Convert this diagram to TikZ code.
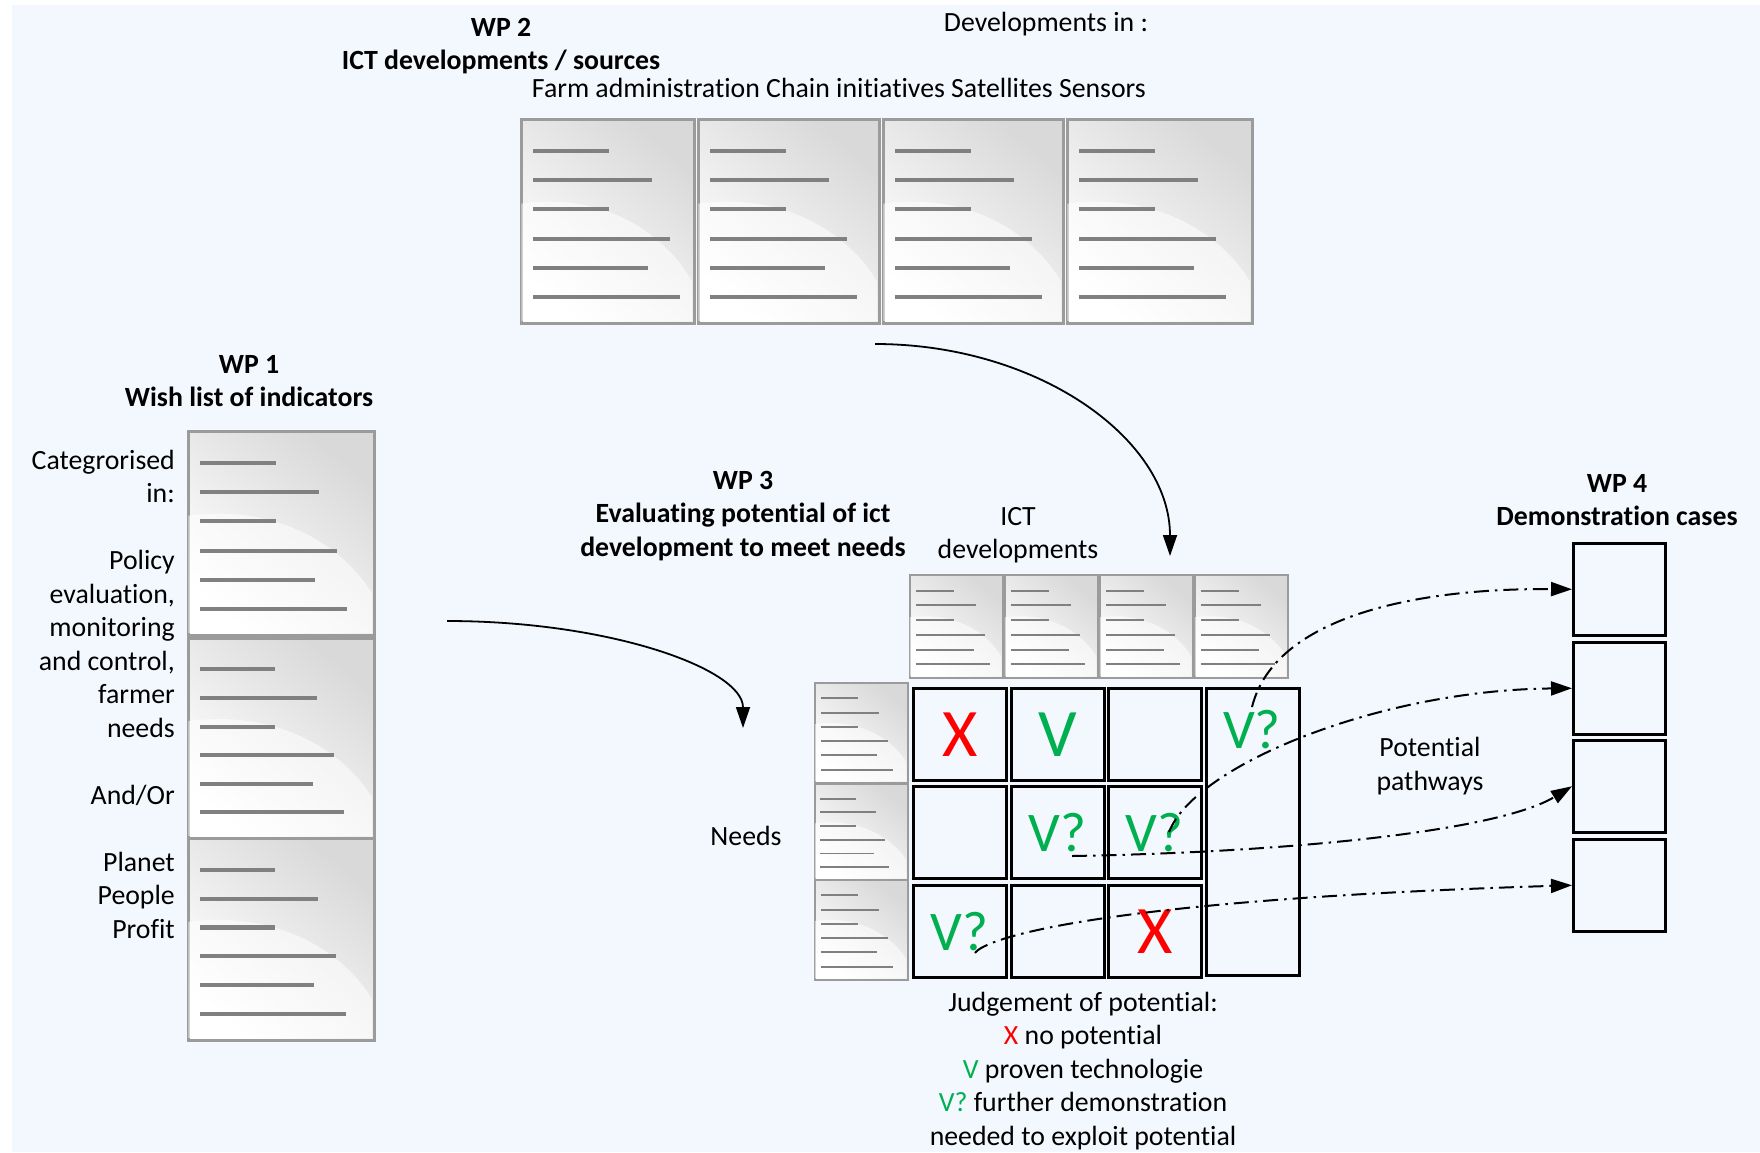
\documentclass[tikz,border=0pt]{standalone}
\usepackage{fontspec}
\setmainfont{Carlito}[Ligatures=NoCommon]
\usetikzlibrary{arrows.meta}

\definecolor{bgblue}{RGB}{243,248,254}
\definecolor{xred}{RGB}{255,0,0}
\definecolor{vgreen}{RGB}{0,176,80}
\definecolor{sheetedge}{RGB}{155,155,155}
\definecolor{sheetbar}{RGB}{128,128,128}

\tikzset{
  sheet/.style={draw=sheetedge, top color=gray!30, bottom color=white,
    shading angle=-40, inner sep=0pt, anchor=north west},
  cell/.style={draw=black, line width=2.5pt, inner sep=0pt, anchor=north west},
  verdict/.style={font=\fontsize{68}{80}\selectfont, inner sep=0pt},
  doubt/.style={font=\fontsize{56}{66}\selectfont, inner sep=0pt, text=vgreen},
  lbl/.style={font=\fontsize{27.8}{33.5}\selectfont, align=center, inner sep=0pt},
  ttl/.style={lbl, font=\fontsize{27.8}{33.5}\selectfont\bfseries},
  flow/.style={line width=1.8pt, -{Triangle[length=21pt,width=14pt]}},
  pathway/.style={line width=2pt, dash pattern=on 15pt off 6pt on 2.5pt off 6pt,
    -{Triangle[length=21pt,width=14pt]}},
}

% A document sheet: name, left, top, width, height, border width
\newcommand{\docsheet}[6]{%
  \node[sheet, line width=#6pt, minimum width=#4pt, minimum height=#5pt] (#1) at (#2,#3) {};
  \fill[white, opacity=0.55]
    (#2+#6*0.5, #3+0.42*#5) .. controls (#2+0.5*#4, #3+0.36*#5) and (#2+0.85*#4, #3+0.58*#5)
    .. (#2+#4-#6*0.5, #3+0.8*#5) -- (#2+#4-#6*0.5, #3+#5-#6*0.5) -- (#2+#6*0.5, #3+#5-#6*0.5) -- cycle;
  \pgfmathsetmacro\barw{0.02*#5}
  \foreach \f/\l in {0.162/0.373,0.305/0.583,0.448/0.373,0.591/0.672,0.734/0.564,0.877/0.72}{%
    \draw[draw=sheetbar, line width=\barw pt] (#2+0.065*#5, #3+\f*#5) -- ++(\l*#5, 0);
  }%
}

\begin{document}
\begin{tikzpicture}[x=1pt, y=-1pt]
\useasboundingbox (0,0) rectangle (1760,1152);
\fill[white] (0,0) rectangle (1760,1152);
\fill[bgblue] (12,5) rectangle (1760,1152);

% ---- WP 2: ICT sources ----
\node[ttl] (wp2) at (501,46) {WP 2\\ICT developments / sources};
\node[lbl] (devin) at (1046,24) {Developments in :};
\node[lbl] (areas) at (839,87.5) {Farm administration Chain initiatives Satellites Sensors};
\docsheet{s1}{520}{118}{173}{204}{2.5}
\docsheet{s2}{697}{118}{181}{204}{2.5}
\docsheet{s3}{882}{118}{180}{204}{2.5}
\docsheet{s4}{1066}{118}{185}{204}{2.5}

% ---- WP 1: wish list ----
\node[ttl] (wp1) at (249,381) {WP 1\\Wish list of indicators};
\node[lbl, align=right, anchor=east] (cats) at (175,694)
  {Categrorised\\in:\\[33.5pt]Policy\\evaluation,\\monitoring\\and control,\\farmer\\needs\\[33.5pt]And/Or\\[33.5pt]Planet\\People\\Profit};
\docsheet{l1}{187}{430}{186}{204}{2.5}
\docsheet{l2}{187}{637}{186}{200}{2.5}
\docsheet{l3}{187}{837}{186}{202}{2.5}

% ---- WP 3: evaluation matrix ----
\node[ttl] (wp3) at (743,516) {WP 3\\Evaluating potential of ict\\development to meet needs};
\node[lbl] (ictdev) at (1018,535) {ICT\\developments};
\node[lbl] (needs) at (746,835.5) {Needs};

\docsheet{t1}{909}{574}{93}{103}{1.5}
\docsheet{t2}{1004}{574}{93}{103}{1.5}
\docsheet{t3}{1099}{574}{93}{103}{1.5}
\docsheet{t4}{1194}{574}{93}{103}{1.5}
\docsheet{n1}{814}{682}{93}{100}{1.5}
\docsheet{n2}{814}{783}{93}{96}{1.5}
\docsheet{n3}{814}{879}{93}{100}{1.5}

\node[cell, minimum width=93pt, minimum height=92pt] (c11) at (912,687) {};
\node[cell, minimum width=93pt, minimum height=92pt] (c12) at (1010,687) {};
\node[cell, minimum width=93pt, minimum height=92pt] (c13) at (1107,687) {};
\node[cell, minimum width=93pt, minimum height=92pt] (c21) at (912,785) {};
\node[cell, minimum width=93pt, minimum height=92pt] (c22) at (1010,785) {};
\node[cell, minimum width=93pt, minimum height=92pt] (c23) at (1107,785) {};
\node[cell, minimum width=93pt, minimum height=92pt] (c31) at (912,884) {};
\node[cell, minimum width=93pt, minimum height=92pt] (c32) at (1010,884) {};
\node[cell, minimum width=93pt, minimum height=92pt] (c33) at (1107,884) {};
\node[cell, minimum width=93pt, minimum height=287pt] (c14) at (1205,687) {};

\node[verdict, text=xred] (v11) at (c11) {X};
\node[verdict, text=vgreen] (v12) at (c12) {V};
\node[doubt] (v14) at (1252,730) {V?};
\node[doubt] (v22) at (c22) {V?};
\node[doubt] (v23) at (c23) {V?};
\node[doubt] (v31) at (c31) {V?};
\node[verdict, text=xred] (v33) at (c33) {X};

\node[lbl] (legend) at (1083,1071)
  {Judgement of potential:\\\textcolor{xred}{X} no potential\\\textcolor{vgreen}{V} proven technologie\\\textcolor{vgreen}{V?} further demonstration\\needed to exploit potential};

% ---- WP 4: demonstration cases ----
\node[ttl] (wp4) at (1617,500) {WP 4\\Demonstration cases};
\node[cell, minimum width=92pt, minimum height=92pt] (b1) at (1572,542) {};
\node[cell, minimum width=92pt, minimum height=92pt] (b2) at (1572,641) {};
\node[cell, minimum width=92pt, minimum height=92pt] (b3) at (1572,739) {};
\node[cell, minimum width=92pt, minimum height=92pt] (b4) at (1572,838) {};
\node[lbl] (paths) at (1430,766) {Potential\\pathways};

% ---- flows ----
\coordinate (a1s) at (875,344);
\coordinate (a1e) at (1170,556);
\draw[flow] (a1s) .. controls (1038,344) and (1170,439) .. (a1e);
\coordinate (a2s) at (447,621);
\coordinate (a2e) at (743,728);
\draw[flow] (a2s) .. controls (610,621) and (743,669) .. (a2e);

% ---- pathways from promising cells to the demonstration cases ----
\coordinate (p1s) at (1252,707);
\coordinate (p2s) at (1169,832);
\coordinate (p3s) at (1072,856);
\coordinate (p4s) at (975,953);
\draw[pathway] (p1s) .. controls (1275,615) and (1420,588) .. (b1.west);
\draw[pathway] (p2s) .. controls (1195,765) and (1380,690) .. (b2.west);
\draw[pathway] (p3s) .. controls (1300,852) and (1500,830) .. (b3.west);
\draw[pathway] (p4s) .. controls (985,938) and (1100,900) .. (b4.west);
\end{tikzpicture}
\end{document}
